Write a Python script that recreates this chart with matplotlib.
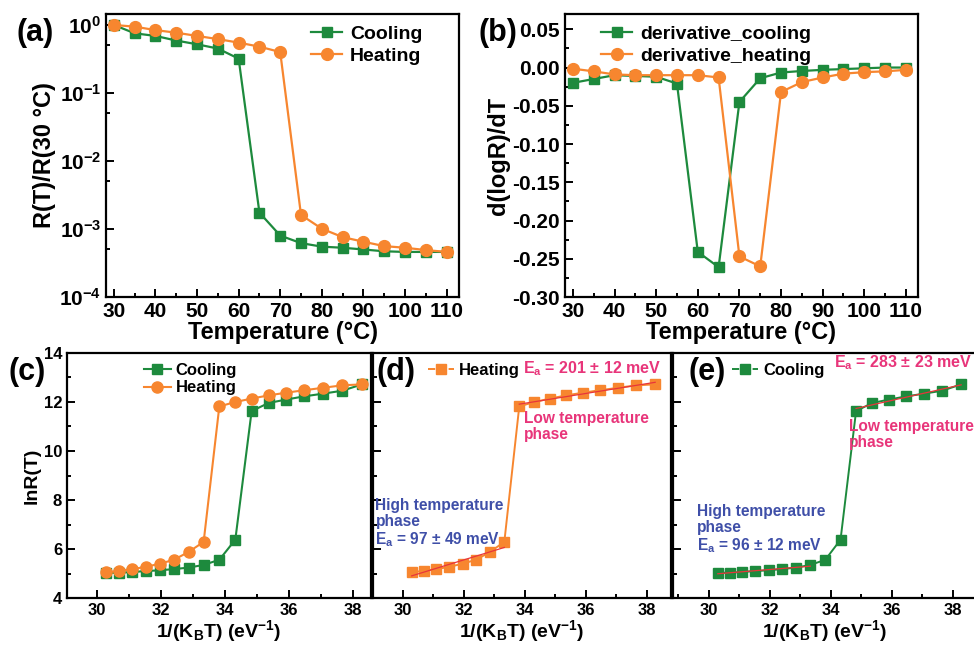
import numpy as np
import matplotlib
matplotlib.use("Agg")
import matplotlib.pyplot as plt
from matplotlib.lines import Line2D
from matplotlib.ticker import MultipleLocator, LogLocator, NullFormatter

plt.rcParams['font.family'] = ['Liberation Sans', 'DejaVu Sans']
plt.rcParams['font.weight'] = 'bold'
plt.rcParams['axes.unicode_minus'] = False
plt.rcParams['mathtext.fontset'] = 'custom'
plt.rcParams['mathtext.rm'] = 'Liberation Sans:bold'
plt.rcParams['mathtext.bf'] = 'Liberation Sans:bold'
plt.rcParams['mathtext.it'] = 'Liberation Sans:bold'
plt.rcParams['mathtext.default'] = 'rm'

GREEN = '#1d8a3d'
ORANGE = '#f7862f'
PINK = '#e8357a'
BLUE = '#3f4fa8'

# ---------------- data ----------------
temperature = [30, 35, 40, 45, 50, 55, 60, 65, 70, 75, 80, 85, 90, 95, 100, 105, 110]

ratio_cooling = [1.0, 0.754, 0.69, 0.59, 0.52, 0.45, 0.32, 0.00174, 0.00080, 0.00062,
                 0.00055, 0.00053, 0.00050, 0.00047, 0.00046, 0.00046, 0.00046]
ratio_heating = [1.0, 0.945, 0.84, 0.77, 0.69, 0.62, 0.55, 0.48, 0.40, 0.00161,
                 0.00101, 0.00076, 0.00065, 0.00056, 0.00053, 0.00049, 0.00046]

deriv_cooling = [-0.020, -0.015, -0.010, -0.011, -0.012, -0.021, -0.241, -0.261, -0.045,
                 -0.014, -0.0065, -0.0045, -0.003, -0.002, -0.001, 0.0, 0.0]
deriv_heating = [-0.0015, -0.005, -0.009, -0.010, -0.010, -0.010, -0.010, -0.013, -0.247,
                 -0.260, -0.032, -0.019, -0.013, -0.008, -0.006, -0.005, -0.003]

# 1/(kB T) in eV^-1, ordered from 110 C down to 30 C
inv_kt = [30.29, 30.69, 31.10, 31.52, 31.96, 32.40, 32.86, 33.33, 33.82,
          34.32, 34.83, 35.36, 35.91, 36.47, 37.06, 37.66, 38.28]
lnr_cooling = [5.03, 5.03, 5.06, 5.10, 5.13, 5.18, 5.24, 5.35, 5.56,
               6.38, 11.63, 11.96, 12.10, 12.23, 12.34, 12.46, 12.72]
lnr_heating = [5.06, 5.10, 5.18, 5.27, 5.40, 5.56, 5.88, 6.29, 11.82,
               12.00, 12.14, 12.27, 12.38, 12.48, 12.58, 12.68, 12.72]

temp_ticks = [30, 40, 50, 60, 70, 80, 90, 100, 110]
inv_ticks = [30, 32, 34, 36, 38]
lnr_ticks = [4, 6, 8, 10, 12, 14]

W, H = 974, 645
fig = plt.figure(figsize=(W / 100, H / 100), dpi=100)


def box(l, t, r, b):
    return [l / W, 1 - b / H, (r - l) / W, (b - t) / H]


def style(ax, size):
    for s in ax.spines.values():
        s.set_linewidth(1.6)
    ax.tick_params(which='both', direction='in', width=1.4, labelsize=size)
    ax.tick_params(which='major', length=6)
    ax.tick_params(which='minor', length=3)
    for lab in ax.get_xticklabels() + ax.get_yticklabels():
        lab.set_fontweight('bold')


# ---------------- (a) ----------------
axa = fig.add_axes(box(106, 14, 459, 297))
axa.plot(temperature, ratio_cooling, '-s', color=GREEN, ms=7.5, lw=1.6, label='Cooling')
axa.plot(temperature, ratio_heating, '-o', color=ORANGE, ms=8.5, lw=1.6, label='Heating')
axa.set_yscale('log')
axa.set_ylim(1e-4, 1.45)
axa.set_xlim(28.1, 113)
axa.set_xticks(temp_ticks)
axa.xaxis.set_minor_locator(MultipleLocator(5))
axa.yaxis.set_major_locator(LogLocator(base=10, numticks=10))
axa.yaxis.set_minor_locator(LogLocator(base=10, subs=[5], numticks=10))
axa.yaxis.set_minor_formatter(NullFormatter())
style(axa, 15)
axa.set_xlabel('Temperature (°C)', fontsize=17, fontweight='bold', labelpad=0)
axa.set_ylabel('R(T)/R(30 °C)', fontsize=17, fontweight='bold', labelpad=2)
axa.legend(loc='upper right', frameon=False, handlelength=1.6,
           handletextpad=0.4, borderaxespad=0.2, labelspacing=0.2,
           prop={'weight': 'bold', 'size': 14}, bbox_to_anchor=(0.93, 1.0))
fig.text(17 / W, 1 - 33 / H, '(a)', fontsize=22, fontweight='bold', va='center')

# ---------------- (b) ----------------
axb = fig.add_axes(box(565, 14, 918, 297))
axb.plot(temperature, deriv_cooling, '-s', color=GREEN, ms=7.5, lw=1.6, label='derivative_cooling')
axb.plot(temperature, deriv_heating, '-o', color=ORANGE, ms=8.5, lw=1.6, label='derivative_heating')
axb.set_ylim(-0.30, 0.07)
axb.set_xlim(28.1, 112.9)
axb.set_xticks(temp_ticks)
axb.xaxis.set_minor_locator(MultipleLocator(5))
axb.set_yticks([0.05, 0.0, -0.05, -0.10, -0.15, -0.20, -0.25, -0.30])
axb.yaxis.set_major_formatter(matplotlib.ticker.FormatStrFormatter('%.2f'))
axb.yaxis.set_minor_locator(MultipleLocator(0.025))
style(axb, 15)
axb.set_xlabel('Temperature (°C)', fontsize=17, fontweight='bold', labelpad=0)
axb.set_ylabel('d(logR)/dT', fontsize=17, fontweight='bold', labelpad=2)
axb.legend(loc='upper left', frameon=False, handlelength=1.6,
           handletextpad=0.4, borderaxespad=0.2, labelspacing=0.2,
           prop={'weight': 'bold', 'size': 14}, bbox_to_anchor=(0.07, 1.0))
fig.text(478 / W, 1 - 33 / H, '(b)', fontsize=22, fontweight='bold', va='center')

# ---------------- (c) ----------------
axc = fig.add_axes(box(67, 353, 371, 598))
axc.plot(inv_kt, lnr_cooling, '-s', color=GREEN, ms=7, lw=1.5, label='Cooling')
axc.plot(inv_kt, lnr_heating, '-o', color=ORANGE, ms=8, lw=1.5, label='Heating')
axc.set_xlim(29.06, 38.56)
axc.set_ylim(4, 14)
axc.set_xticks(inv_ticks)
axc.set_yticks(lnr_ticks)
axc.xaxis.set_minor_locator(MultipleLocator(1))
axc.yaxis.set_minor_locator(MultipleLocator(1))
style(axc, 12)
axc.set_xlabel('1/(K$_B$T) (eV$^{-1}$)', fontsize=14, fontweight='bold', labelpad=0)
axc.set_ylabel('lnR(T)', fontsize=14, fontweight='bold', labelpad=2)
axc.legend(loc='upper left', frameon=False, handlelength=1.6,
           handletextpad=0.3, borderaxespad=0.2, labelspacing=0.15,
           prop={'weight': 'bold', 'size': 12}, bbox_to_anchor=(0.22, 1.0))
fig.text(8 / W, 1 - 372 / H, '(c)', fontsize=22, fontweight='bold', va='center')


def fit_panel(ax, x, y, color, split, label, ea_low, ea_high, pos):
    x = np.asarray(x)
    y = np.asarray(y)
    ax.errorbar(x, y, yerr=0.12, fmt='none', ecolor='#f4a6b8', elinewidth=0.8, ls=':', capsize=0)
    ax.plot(x, y, '-s', color=color, ms=7, lw=1.4, zorder=3)
    hi = x <= 33.4
    lo = x >= split
    for m in (hi, lo):
        p = np.polyfit(x[m], y[m], 1)
        ax.plot(x[m], np.polyval(p, x[m]), '-', color='#e8353a', lw=0.9, zorder=4)
    ax.set_ylim(4, 14)
    ax.set_xticks(inv_ticks)
    ax.set_yticks(lnr_ticks)
    ax.xaxis.set_minor_locator(MultipleLocator(1))
    ax.yaxis.set_minor_locator(MultipleLocator(1))
    style(ax, 12)
    ax.set_yticklabels([])
    ax.set_xlabel('1/(K$_B$T) (eV$^{-1}$)', fontsize=14, fontweight='bold', labelpad=0)
    h = Line2D([], [], color=color, ls='--', marker='s', ms=7, lw=1.4)
    ax.legend([h], [label], loc='upper left', frameon=False, handlelength=1.6,
              handletextpad=0.3, borderaxespad=0.2,
              prop={'weight': 'bold', 'size': 12}, bbox_to_anchor=pos[0])
    ax.text(pos[1][0], pos[1][1], 'E$_a$ = %s meV' % ea_low, color=PINK,
            fontsize=11.5, fontweight='bold', va='center', ha='left')
    ax.text(pos[2][0], pos[2][1], 'Low temperature\nphase', color=PINK,
            fontsize=11.2, fontweight='bold', va='top', ha='left', linespacing=1.1)
    ax.text(pos[3][0], pos[3][1], 'High temperature\nphase\nE$_a$ = %s meV' % ea_high,
            color=BLUE, fontsize=11.2, fontweight='bold', va='top', ha='left', linespacing=1.1)


# ---------------- (d) ----------------
axd = fig.add_axes(box(373, 353, 671, 598))
axd.set_xlim(29.02, 38.8)
fit_panel(axd, inv_kt, lnr_heating, ORANGE, 33.8, 'Heating', '201 ± 12', '97 ± 49',
          [(0.15, 1.0), (33.95, 13.35), (33.97, 11.65), (29.1, 8.1)])
fig.text(376 / W, 1 - 372 / H, '(d)', fontsize=22, fontweight='bold', va='center')

# ---------------- (e) ----------------
axe = fig.add_axes(box(673, 353, 977, 598))
axe.set_xlim(28.82, 38.8)
fit_panel(axe, inv_kt, lnr_cooling, GREEN, 34.8, 'Cooling', '283 ± 23', '96 ± 12',
          [(0.16, 1.0), (34.1, 13.6), (34.6, 11.3), (29.6, 7.85)])
fig.text(688 / W, 1 - 372 / H, '(e)', fontsize=22, fontweight='bold', va='center')

fig.savefig('out.png', dpi=100)
